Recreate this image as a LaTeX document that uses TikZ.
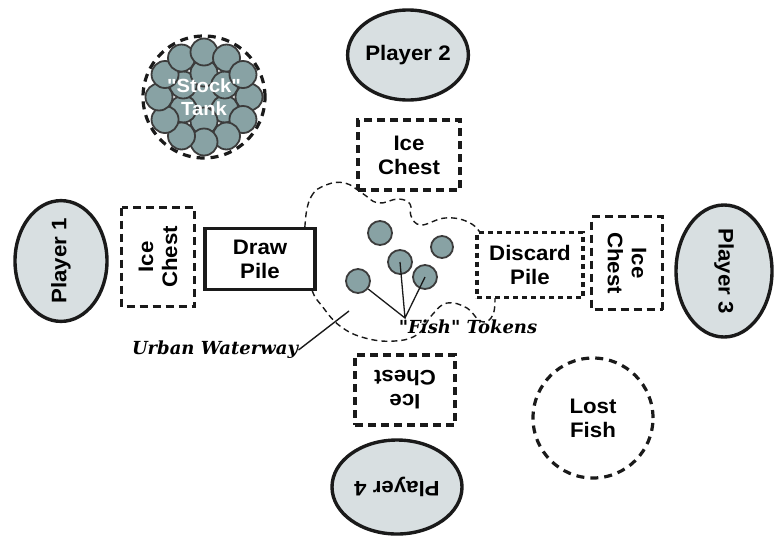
\documentclass[tikz,border=0pt]{standalone}
\usepackage{fontspec}
\usetikzlibrary{shapes.geometric}
\setmainfont{Liberation Serif}
\newfontfamily\lblfont[FakeStretch=1.06]{Liberation Sans}
\newfontfamily\capfont{DejaVu Serif}
\definecolor{pond}{HTML}{D8DFE1}
\definecolor{fishc}{HTML}{88A2A4}
\definecolor{ink}{HTML}{1A1A1A}
\tikzset{sc/.style={x=1pt,y=-1pt,line width=1pt},
  lbl/.style={font=\lblfont\bfseries\fontsize{21}{24}\selectfont,align=center,inner sep=0pt},
  plyr/.style={lbl,ellipse,draw=ink,line width=3.4pt,fill=pond},
  chest/.style={lbl,rectangle,draw=ink,line width=3.2pt,dash pattern=on 8pt off 5pt},
  tok/.style={circle,draw=ink!85,line width=1.8pt,fill=fishc,minimum size=#1,inner sep=0pt},
  tok/.default=24pt,
  capt/.style={font=\capfont\bfseries\itshape\fontsize{18}{20}\selectfont,inner sep=0pt}}

\begin{document}
\begin{tikzpicture}[sc]
  \useasboundingbox (0,0) rectangle (783,536);
  % urban waterway
  \draw[ink,line width=1.4pt,dash pattern=on 6pt off 4pt] plot[smooth cycle,tension=.7] coordinates {
    (305,225) (311,197) (326,185) (345,183) (362,193) (378,203) (398,199) (410,204)
    (411,216) (421,225) (445,218) (468,222) (482,236) (492,265) (495,300) (491,318)
    (480,321) (467,308) (447,303) (432,315) (418,334) (395,341) (365,338) (340,326)
    (322,306) (312,290) (306,260)};
  % stock tank
  \coordinate (st) at (204,97);
  \node[tok=27pt] at (st) {};
  \foreach \a in {30,90,...,330}{\node[tok=27pt] at ([shift={(\a:24)}]st) {};}
  \foreach \a in {0,30,...,330}{\node[tok=27pt] at ([shift={(\a:45)}]st) {};}
  \node[circle,draw=ink,line width=3.2pt,dash pattern=on 8pt off 6pt,minimum size=122pt] (tank) at (st) {};
  \node[lbl,white,font=\lblfont\bfseries\fontsize{19}{23}\selectfont] (tanktxt) at (st) {"Stock"\\Tank};
  % players
  \node[plyr,rotate=90,minimum width=114pt,minimum height=92pt] (p1) at (61,261) {Player 1};
  \node[plyr,minimum width=115pt,minimum height=90pt] (p2) at (408,55) {Player 2};
  \node[plyr,rotate=-90,minimum width=132pt,minimum height=96pt] (p3) at (724,271) {Player 3};
  \node[plyr,rotate=180,minimum width=130pt,minimum height=94pt] (p4) at (397,487) {Player 4};
  % ice chests
  \node[chest,rotate=90,minimum width=99pt,minimum height=73pt] (c1) at (158,257) {Ice\\Chest};
  \node[chest,minimum width=102pt,minimum height=70pt] (c2) at (409,155) {Ice\\Chest};
  \node[chest,rotate=-90,minimum width=93pt,minimum height=71pt] (c3) at (627,263) {Ice\\Chest};
  \node[chest,rotate=180,minimum width=100pt,minimum height=70pt] (c4) at (405,390) {Ice\\Chest};
  % piles
  \node[lbl,draw=ink,fill=white,line width=3.4pt,minimum width=110pt,minimum height=61pt] (draw) at (260,259) {Draw\\Pile};
  \node[chest,fill=white,dash pattern=on 5pt off 4pt,minimum width=106pt,minimum height=65pt] (disc) at (530,265) {Discard\\Pile};
  \node[lbl,circle,draw=ink,line width=3.2pt,dash pattern=on 8pt off 6pt,minimum size=120pt] (lost) at (593,418) {Lost\\Fish};
  % fish tokens
  \node[tok] (f1) at (380,233) {};
  \node[tok=22pt] (f2) at (442,247) {};
  \node[tok] (f3) at (400,262) {};
  \node[tok] (f4) at (425,277) {};
  \node[tok] (f5) at (358,281) {};
  \coordinate (fp) at (405,318);
  \draw[ink,line width=1.3pt] (f5) -- (fp) -- (f3.center) (fp) -- (f4.center);
  \node[capt] (fishlbl) at (468,327) {"Fish" Tokens};
  \node[capt] (uw) at (215,350) {Urban Waterway};
  \coordinate (uwtip) at (349,311);
  \draw[ink,line width=1.4pt] (uw.east) -- (uwtip);
\end{tikzpicture}
\end{document}
